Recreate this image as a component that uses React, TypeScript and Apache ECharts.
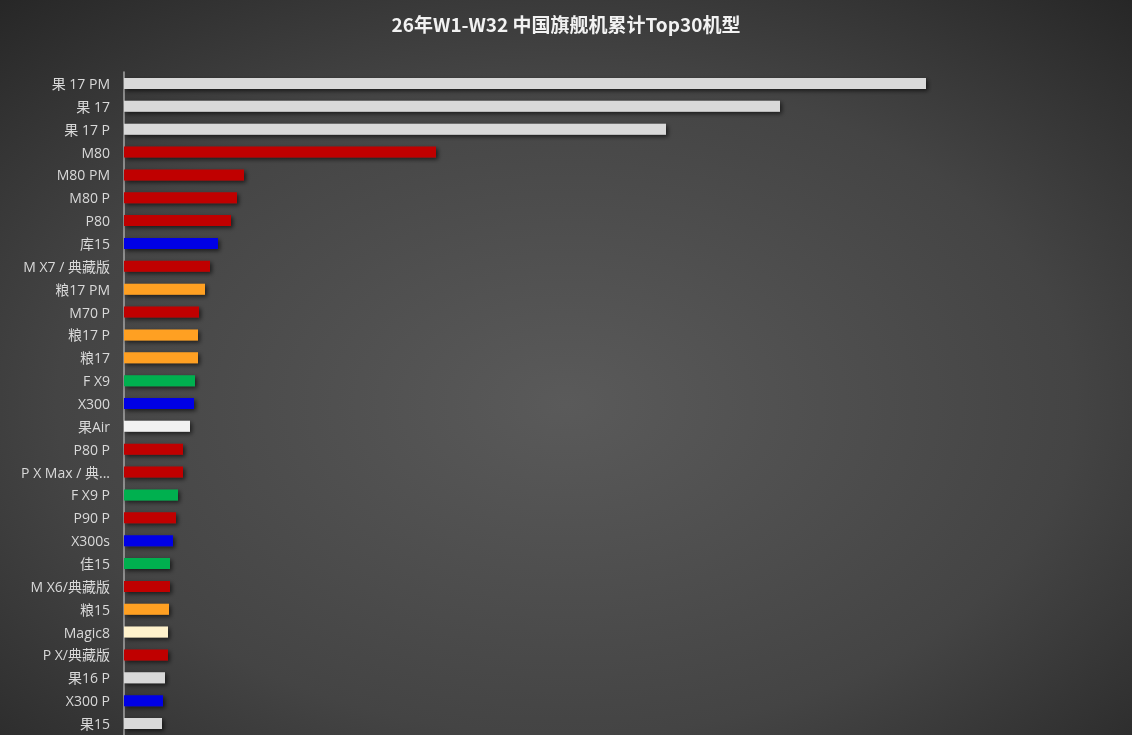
import * as echarts from 'echarts';
import { useEffect, useRef } from 'react';

const models = [
  '果 17 PM', '果 17', '果 17 P', 'M80', 'M80 PM', 'M80 P', 'P80', '库15',
  'M X7 / 典藏版', '粮17 PM', 'M70 P', '粮17 P', '粮17', 'F X9', 'X300', '果Air',
  'P80 P', 'P X Max / 典藏版', 'F X9 P', 'P90 P', 'X300s', '佳15', 'M X6/典藏版',
  '粮15', 'Magic8', 'P X/典藏版', '果16 P', 'X300 P', '果15',
];

// cumulative volume
const volumes = [
  802, 656, 542, 312, 120, 113, 107, 94,
  86, 81, 75, 74, 74, 71, 70, 66,
  59, 59, 54, 52, 49, 46, 46,
  45, 44, 44, 41, 39, 38,
];

const brands = [
  'apple', 'apple', 'apple', 'huawei', 'huawei', 'huawei', 'huawei', 'oppo',
  'huawei', 'xiaomi', 'huawei', 'xiaomi', 'xiaomi', 'oppo2', 'oppo', 'appleAir',
  'huawei', 'huawei', 'oppo2', 'huawei', 'oppo', 'oppo2', 'huawei',
  'xiaomi', 'honor', 'huawei', 'apple', 'oppo', 'apple',
];

const brandColors: Record<string, string> = {
  apple: '#d9d9d9',
  appleAir: '#f2f2f2',
  huawei: '#c00000',
  oppo: '#0606e6',
  oppo2: '#00b050',
  xiaomi: '#ffa020',
  honor: '#fff2cc',
};

function App() {
  const chartRef = useRef(null);

  useEffect(() => {
    const myChart = echarts.init(chartRef.current, null, { renderer: 'svg' });

    const option = {
      animation: false,
      backgroundColor: {
        type: 'radial',
        x: 0.5,
        y: 0.55,
        r: 0.75,
        colorStops: [
          { offset: 0, color: '#5a5a5a' },
          { offset: 0.6, color: '#444444' },
          { offset: 1, color: '#262626' },
        ],
      },
      title: {
        text: '26年W1-W32 中国旗舰机累计Top30机型',
        left: 'center',
        top: 9,
        textStyle: {
          color: '#f2f2f2',
          fontSize: 19,
          fontWeight: 'bold',
          fontFamily: 'Noto Sans CJK SC',
        },
      },
      grid: {
        left: 124,
        right: 8,
        top: 72,
        bottom: 0,
        containLabel: false,
      },
      xAxis: {
        type: 'value',
        min: 0,
        max: 1000,
        show: false,
      },
      yAxis: {
        type: 'category',
        inverse: true,
        data: models,
        axisLine: { show: true, lineStyle: { color: '#a6a6a6', width: 1.5 } },
        axisTick: { show: false },
        axisLabel: {
          color: '#d9d9d9',
          fontSize: 14,
          fontFamily: "'Open Sans', 'Noto Sans CJK SC'",
          margin: 14,
          width: 100,
          overflow: 'truncate',
          ellipsis: '...',
        },
      },
      series: [
        {
          type: 'bar',
          barWidth: 11,
          data: volumes.map((v, i) => ({
            value: v,
            itemStyle: { color: brandColors[brands[i]] },
          })),
          itemStyle: {
            shadowBlur: 4,
            shadowColor: 'rgba(0,0,0,0.6)',
            shadowOffsetX: 2,
            shadowOffsetY: 2,
          },
        },
      ],
    };

    myChart.setOption(option);

    return () => {
      myChart.dispose();
    };
  }, []);

  return (
    <div
      ref={chartRef}
      style={{ position: 'fixed', left: 0, top: 0, width: '1132px', height: '735px' }}
    ></div>
  );
}

export default App;
